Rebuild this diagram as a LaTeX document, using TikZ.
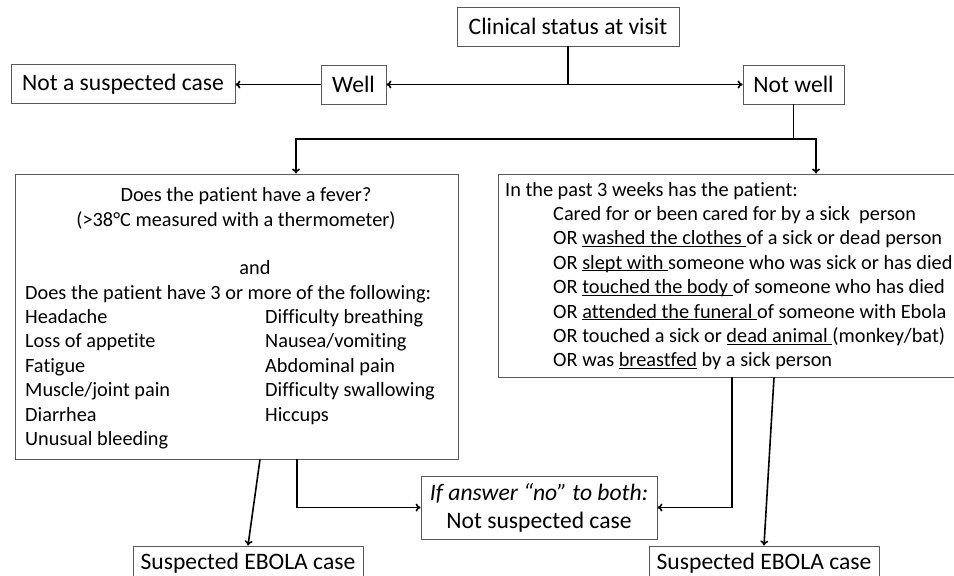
\documentclass[tikz,border=0pt]{standalone}
\usepackage{fontspec}
\setmainfont{Carlito}[Ligatures=NoCommon]
\usetikzlibrary{arrows.meta}
\newcommand\uln[1]{\underline{\smash{#1}}}

\begin{document}
\begin{tikzpicture}[x=1pt,y=-1pt,
    box/.style={rectangle,draw=black!65,line width=0.9pt,inner sep=0pt,align=center,font=\fontsize{23.6}{28}\selectfont},
    txt/.style={inner sep=0pt,font=\fontsize{20.3}{24.5}\selectfont},
    link/.style={line width=1.6pt},
    arr/.style={link,-{To[length=5pt,width=8pt]}}]
        \useasboundingbox (0,0) rectangle (954,576);
        % top row
        \node at (568,26.5) [box,minimum width=222pt,minimum height=39pt] (clin) {Clinical status at visit};
        \node at (353.5,84.5) [box,minimum width=65pt,minimum height=39pt] (well) {Well};
        \node at (123,84) [box,minimum width=224pt,minimum height=39pt] (nosusp) {\vphantom{W}Not a suspected case};
        \node at (793.5,84.5) [box,minimum width=101pt,minimum height=39pt] (notwell) {Not well};
        % question boxes
        \node at (236.5,316.5) [box,minimum width=443pt,minimum height=285pt] (fever) {};
        \node at (729,275.5) [box,minimum width=462pt,minimum height=203pt] (contact) {};
        \node at (246,201) [txt,anchor=base] (q1) {Does the patient have a fever?};
        \node at (236,226) [txt,anchor=base] (q2) {(>38°C measured with a thermometer)};
        \node at (255,274) [txt,anchor=base] (qand) {and};
        \node at (25,299) [txt,anchor=base west] (q3) {Does the patient have 3 or more of the following:};
        \foreach \s [count=\i] in {Headache,Loss of appetite,Fatigue,Muscle/joint pain,Diarrhea,Unusual bleeding}
            \node at (25,298.5+24.5*\i) [txt,anchor=base west] (sl\i) {\s};
        \foreach \s [count=\i] in {Difficulty breathing,Nausea/vomiting,Abdominal pain,Difficulty swallowing,Hiccups}
            \node at (265,298.5+24.5*\i) [txt,anchor=base west] (sr\i) {\s};
        \node at (505,196) [txt,anchor=base west] (c0) {In the past 3 weeks has the patient:};
        \foreach \s [count=\i] in {{Cared for or been cared for by a sick\ \ person},
                {OR \uln{washed the clothes\ }of a sick or dead person},
                {OR \uln{slept with\ }someone who was sick or has died},
                {OR \uln{touched the body\ }of someone who has died},
                {OR \uln{attended the funeral\ }of someone with Ebola},
                {OR touched a sick or \uln{dead animal\ }(monkey/bat)},
                {OR was \uln{breastfed} by a sick person}}
            \node at (553,196+24.4*\i) [txt,anchor=base west] (c\i) {\s};
        % outcomes
        \node at (539,507.5) [box,minimum width=236pt,minimum height=63pt] (ifno) {\textit{If answer “no” to both:}\\Not suspected case};
        \node at (248,563) [box,minimum width=230pt,minimum height=34pt] (ebolaL) {Suspected EBOLA case};
        \node at (764,563) [box,minimum width=230pt,minimum height=34pt] (ebolaR) {Suspected EBOLA case};
        % connectors
        \coordinate (split) at (clin.south |- well.east);
        \draw[link] (clin.south) -- (split);
        \draw[arr] (split) -- (well.east);
        \draw[arr] (split) -- (notwell.west);
        \draw[arr] (well.west) -- (well.west -| nosusp.east);
        \draw[link] (notwell.south) -- ++(0,34.5) coordinate (branch);
        \draw[arr] (branch) -| ([xshift=59.5pt]fever.north);
        \draw[arr] (branch) -| ([xshift=87pt]contact.north);
        \draw[arr] ([xshift=23.5pt]fever.south) -- (ebolaL.north);
        \draw[arr] ([xshift=60.5pt]fever.south) |- (ifno.west);
        \draw[arr] ([xshift=3pt]contact.south) |- (ifno.east);
        \draw[arr] ([xshift=45pt]contact.south) -- (ebolaR.north);
\end{tikzpicture}
\end{document}
